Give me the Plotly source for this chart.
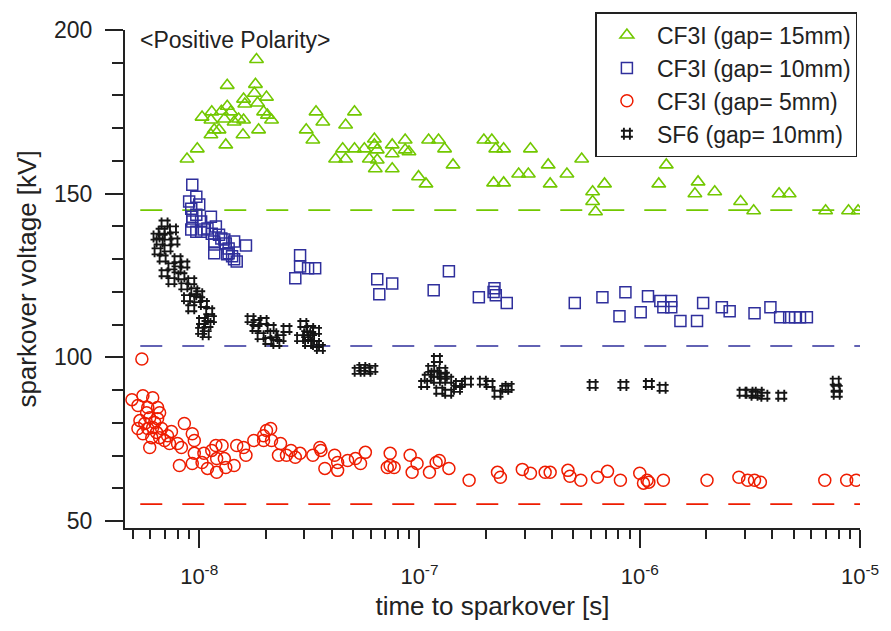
import plotly.graph_objects as go

# ---------------- data ----------------
# CF3I gap = 15 mm (time to sparkover [s], sparkover voltage [kV])
g15_t = [8.8e-9, 9.8e-9, 1.03e-8, 1.13e-8, 1.14e-8, 1.17e-8, 1.13e-8, 1.23e-8, 1.26e-8, 1.30e-8,
         1.32e-8, 1.34e-8, 1.34e-8, 1.39e-8, 1.44e-8, 1.51e-8, 1.58e-8, 1.59e-8, 1.61e-8, 1.59e-8,
         1.80e-8, 1.78e-8, 1.82e-8, 1.84e-8, 1.86e-8, 1.96e-8, 2.02e-8, 2.04e-8, 2.13e-8,
         3.06e-8, 3.28e-8, 3.39e-8, 3.64e-8, 4.16e-8, 4.48e-8, 4.62e-8, 4.62e-8, 5.07e-8, 5.07e-8,
         5.62e-8, 5.92e-8, 6.24e-8, 6.24e-8, 6.30e-8, 6.43e-8, 6.43e-8, 7.52e-8, 7.52e-8, 7.52e-8,
         8.61e-8, 8.61e-8, 8.96e-8, 9.9e-8, 1.07e-7, 1.10e-7, 1.22e-7, 1.30e-7, 1.42e-7,
         1.96e-7, 2.13e-7, 2.17e-7, 2.22e-7, 2.41e-7, 2.41e-7, 2.82e-7, 3.12e-7, 3.19e-7, 3.84e-7,
         3.92e-7, 4.67e-7, 5.45e-7, 6.11e-7, 6.11e-7, 6.30e-7, 6.92e-7, 1.22e-6, 1.32e-6, 1.78e-6,
         1.84e-6, 2.19e-6, 2.87e-6, 3.29e-6, 4.29e-6, 4.77e-6, 6.98e-6, 8.87e-6, 9.8e-6]
g15_v = [160.6, 163.7, 173.4, 172.5, 175.0, 169.5, 168.0, 169.5, 175.2, 172.8,
         164.9, 183.1, 176.7, 175.0, 171.9, 172.8, 168.0, 178.9, 177.4, 172.5,
         183.4, 180.7, 191.0, 177.7, 169.5, 175.0, 179.5, 174.0, 172.5,
         169.5, 166.4, 175.0, 171.9, 160.6, 163.7, 160.6, 171.0, 175.0, 163.7,
         163.7, 160.6, 166.7, 164.9, 157.6, 163.4, 160.3, 164.9, 162.2, 157.6,
         166.4, 163.4, 162.8, 155.2, 153.0, 166.4, 166.4, 163.7, 158.8,
         166.4, 166.4, 153.3, 163.7, 163.7, 153.3, 156.0, 156.0, 163.7, 158.8,
         153.0, 156.0, 160.6, 150.6, 147.6, 144.5, 153.0, 153.0, 158.8, 150.0,
         153.6, 150.6, 147.6, 144.8, 150.0, 150.0, 144.8, 144.8, 144.8]

# CF3I gap = 10 mm
g10_t = [9.3e-9, 9.7e-9, 9.0e-9, 9.2e-9, 1.0e-8, 9.7e-9, 9.3e-9, 9.3e-9, 1.02e-8, 9.2e-9,
         1.02e-8, 9.7e-9, 1.05e-8, 1.13e-8, 1.09e-8, 1.14e-8, 1.19e-8, 1.23e-8, 1.17e-8, 1.17e-8,
         1.26e-8, 1.30e-8, 1.32e-8, 1.36e-8, 1.44e-8, 1.63e-8, 1.17e-8, 1.36e-8, 1.41e-8, 1.44e-8,
         1.48e-8, 1.34e-8,
         2.73e-8, 2.87e-8, 2.87e-8, 3.12e-8, 3.36e-8, 6.43e-8, 7.52e-8, 6.57e-8, 1.36e-7, 1.16e-7,
         1.86e-7, 2.19e-7, 2.22e-7, 2.17e-7, 2.49e-7, 5.07e-7, 6.77e-7, 8.61e-7, 8.09e-7, 1.01e-6,
         1.09e-6, 1.24e-6, 1.28e-6, 1.39e-6, 1.39e-6, 1.53e-6, 1.82e-6, 1.94e-6, 2.36e-6, 2.56e-6,
         3.32e-6, 3.92e-6, 4.34e-6, 4.77e-6, 5.07e-6, 5.34e-6, 5.74e-6]
g10_v = [152.7, 149.1, 147.6, 145.4, 146.7, 143.6, 143.0, 141.5, 141.5, 139.1,
         138.4, 138.4, 139.1, 143.0, 139.4, 137.8, 140.0, 137.5, 135.4, 134.5,
         136.3, 136.0, 134.8, 133.3, 135.4, 134.2, 131.8, 131.8, 130.9, 130.0,
         129.3, 131.5,
         124.2, 131.2, 127.8, 127.2, 127.2, 123.9, 122.6, 119.3, 126.3, 120.5,
         118.4, 121.1, 119.0, 120.0, 116.6, 116.6, 118.4, 119.9, 112.6, 113.8,
         118.7, 117.2, 115.3, 117.2, 115.3, 111.1, 111.1, 116.6, 115.3, 114.1,
         113.5, 115.3, 112.3, 112.3, 112.3, 112.3, 112.3]

# CF3I gap = 5 mm
g5_t = [5.49e-9, 4.95e-9, 5.55e-9, 6.15e-9, 5.27e-9, 5.84e-9, 6.47e-9, 5.38e-9, 5.96e-9, 6.47e-9,
        5.27e-9, 5.66e-9, 6.15e-9, 6.75e-9, 7.48e-9, 5.55e-9, 6.09e-9, 6.96e-9, 5.96e-9, 7.18e-9,
        6.4e-9, 5.77e-9, 6.61e-9, 6.28e-9, 5.84e-9, 6.61e-9, 7.33e-9, 8.56e-9, 9.3e-9, 9.5e-9,
        7.97e-9, 8.3e-9, 8.13e-9, 9.3e-9, 9.5e-9, 1.05e-8, 1.03e-8, 1.09e-8, 1.14e-8, 1.19e-8,
        1.27e-8, 1.20e-8, 1.30e-8, 1.32e-8, 1.20e-8, 1.44e-8, 1.48e-8, 1.59e-8, 1.63e-8, 1.77e-8,
        1.96e-8, 2.02e-8, 2.11e-8, 1.96e-8, 2.13e-8, 2.34e-8, 2.29e-8, 2.49e-8, 2.61e-8, 2.73e-8,
        2.87e-8, 3.28e-8, 3.53e-8, 3.57e-8, 3.72e-8, 4.12e-8, 4.25e-8, 4.25e-8, 4.72e-8, 5.12e-8,
        5.40e-8, 5.68e-8, 7.36e-8, 7.36e-8, 7.67e-8, 7.14e-8, 9.07e-8, 9.26e-8, 9.75e-8, 1.11e-7,
        1.19e-7, 1.23e-7, 1.36e-7, 1.68e-7, 2.26e-7, 2.33e-7, 2.93e-7, 3.19e-7, 3.72e-7, 3.92e-7,
        4.72e-7, 4.82e-7, 5.40e-7, 6.43e-7, 7.14e-7, 8.17e-7, 1.0e-6, 1.04e-6, 1.10e-6, 1.08e-6,
        1.28e-6, 2.02e-6, 2.82e-6, 3.09e-6, 3.32e-6, 3.53e-6, 6.92e-6, 8.7e-6, 9.6e-6]
g5_v = [99.5, 87.1, 88.3, 87.7, 85.3, 84.7, 84.7, 80.7, 81.6, 81.3,
        78.3, 79.8, 78.6, 78.3, 77.4, 76.7, 75.5, 74.6, 72.5, 76.1,
        77.1, 83.1, 83.1, 80.1, 78.3, 75.5, 73.7, 79.8, 76.7, 74.6,
        73.7, 72.5, 67.0, 67.6, 70.7, 70.7, 67.9, 66.1, 71.6, 73.1,
        73.1, 69.1, 69.1, 66.4, 64.9, 67.0, 73.1, 72.5, 70.1, 74.6,
        76.1, 77.7, 78.3, 74.6, 74.6, 73.7, 70.1, 70.1, 71.6, 69.5,
        70.7, 70.1, 72.5, 71.6, 66.1, 70.1, 67.9, 65.5, 68.5, 69.1,
        67.6, 71.0, 70.7, 67.0, 66.4, 66.4, 70.1, 64.9, 67.6, 64.9,
        67.9, 68.5, 66.1, 62.5, 64.9, 63.4, 65.8, 64.6, 64.9, 64.9,
        65.5, 63.7, 62.5, 63.4, 65.2, 62.5, 64.6, 61.6, 61.9, 62.5,
        62.5, 62.5, 63.4, 62.5, 62.5, 61.9, 62.5, 62.5, 62.5]

# SF6 gap = 10 mm
sf6_t = [6.96e-9, 6.75e-9, 7.6e-9, 6.61e-9, 7.72e-9, 6.4e-9, 7.18e-9, 6.82e-9, 7.97e-9, 8.56e-9,
         7.48e-9, 6.96e-9, 8.3e-9, 9.2e-9, 7.48e-9, 9.5e-9, 8.8e-9, 1.0e-8, 1.05e-8, 1.11e-8,
         9.2e-9, 1.03e-8, 1.09e-8, 1.02e-8, 1.07e-8, 7.97e-9, 8.56e-9, 7.18e-9, 9.8e-9, 1.13e-8,
         6.47e-9,
         1.71e-8, 1.82e-8, 1.96e-8, 1.80e-8, 2.11e-8, 1.90e-8, 2.17e-8, 2.34e-8, 2.49e-8, 2.06e-8,
         2.24e-8, 2.97e-8, 3.19e-8, 3.39e-8, 2.87e-8, 3.12e-8, 3.39e-8, 3.22e-8, 3.09e-8, 3.53e-8,
         5.50e-8, 5.80e-8, 6.11e-8, 5.24e-8,
         1.2e-7, 1.13e-7, 1.27e-7, 1.09e-7, 1.2e-7, 1.35e-7, 1.51e-7, 1.66e-7, 1.23e-7, 1.35e-7,
         1.48e-7, 1.17e-7, 1.05e-7, 1.29e-7, 1.94e-7, 2.08e-7, 2.26e-7, 2.54e-7, 2.45e-7,
         6.11e-7, 8.43e-7, 1.10e-6, 1.27e-6, 2.93e-6, 3.15e-6, 3.32e-6, 3.47e-6, 3.68e-6, 4.39e-6,
         7.76e-6, 7.84e-6, 7.84e-6]
sf6_v = [140.9, 138.4, 139.1, 135.4, 135.4, 136.9, 133.3, 130.2, 130.0, 128.4,
         127.8, 125.7, 124.8, 123.3, 123.3, 120.2, 118.1, 119.3, 116.3, 114.1,
         115.0, 111.1, 110.2, 108.1, 107.1, 126.9, 121.7, 136.9, 117.8, 111.7,
         132.4,
         111.7, 110.5, 111.1, 109.0, 109.0, 106.5, 107.1, 105.9, 108.7, 105.0,
         104.4, 110.2, 108.7, 108.1, 105.9, 104.4, 104.1, 105.9, 107.1, 102.9,
         96.8, 95.9, 96.5, 95.9,
         99.5, 96.5, 95.9, 93.8, 93.2, 93.2, 91.9, 92.6, 89.8, 89.2,
         90.4, 95.0, 91.9, 94.4, 92.6, 91.9, 88.9, 91.0, 90.4,
         91.6, 91.6, 91.9, 90.7, 89.2, 89.2, 88.6, 89.2, 88.3, 88.3,
         92.6, 90.4, 88.9]

# reference (dashed) levels [kV] and their time span [s]
ref_levels = {"g15": 145.0, "g10": 103.5, "g5": 55.2}
ref_span = [5.4e-9, 1.0e-5]

x_ticks = [1e-8, 1e-7, 1e-6, 1e-5]
x_ticktext = ["10<sup>-8</sup>", "10<sup>-7</sup>", "10<sup>-6</sup>", "10<sup>-5</sup>"]
x_minor = [m * 10.0 ** e for e in range(-9, -5) for m in range(2, 10) if 4.6e-9 < m * 10.0 ** e < 1e-5]

# ---------------- styles ----------------
C_GREEN = "#72c800"
C_BLUE = "#2f2f9c"
C_RED = "#ee1c00"
C_BLACK = "#151515"
C_AXIS = "#222222"
FONT = "Liberation Sans, Arial, Helvetica, sans-serif"

fig = go.Figure()

for key, col in [("g15", C_GREEN), ("g10", C_BLUE), ("g5", C_RED)]:
    fig.add_trace(go.Scatter(
        x=ref_span, y=[ref_levels[key]] * 2, mode="lines",
        line=dict(color=col, width=1.6, dash="22px,20px"),
        showlegend=False, hoverinfo="skip"))

fig.add_trace(go.Scatter(x=g15_t, y=g15_v, mode="markers", name="CF3I (gap= 15mm)",
                         marker=dict(symbol="triangle-up-open", size=12, color=C_GREEN,
                                     line=dict(width=1.6, color=C_GREEN))))
fig.add_trace(go.Scatter(x=g10_t, y=g10_v, mode="markers", name="CF3I (gap= 10mm)",
                         marker=dict(symbol="square-open", size=11, color=C_BLUE,
                                     line=dict(width=1.5, color=C_BLUE))))
fig.add_trace(go.Scatter(x=g5_t, y=g5_v, mode="markers", name="CF3I (gap= 5mm)",
                         marker=dict(symbol="circle-open", size=12, color=C_RED,
                                     line=dict(width=1.5, color=C_RED))))
fig.add_trace(go.Scatter(x=sf6_t, y=sf6_v, mode="markers", name="SF6 (gap= 10mm)",
                         marker=dict(symbol="hash-open", size=12, color=C_BLACK,
                                     line=dict(width=1.9, color=C_BLACK))))

fig.update_layout(
    width=891, height=631,
    margin=dict(l=125, r=23, t=28, b=103),
    paper_bgcolor="white", plot_bgcolor="white",
    font=dict(family=FONT, size=22, color=C_AXIS),
    showlegend=True,
    legend=dict(x=0.64, y=1.036, xanchor="left", yanchor="top",
                bgcolor="white", bordercolor=C_AXIS, borderwidth=1.5,
                font=dict(size=23, color=C_AXIS), itemwidth=50,
                tracegroupgap=0),
    xaxis=dict(
        type="log", range=[-8.337, -5],
        showline=True, linecolor=C_AXIS, linewidth=2, mirror=False,
        showgrid=False, zeroline=False,
        ticks="outside", ticklen=18, tickwidth=2, tickcolor=C_AXIS,
        tickmode="array", tickvals=x_ticks, ticktext=x_ticktext,
        tickfont=dict(size=22), ticklabelstandoff=10,
        minor=dict(tickmode="array", tickvals=x_minor, ticks="outside",
                   ticklen=9, tickwidth=2, tickcolor=C_AXIS, showgrid=False),
        title=dict(text="time to sparkover [s]", font=dict(size=26), standoff=8),
    ),
    yaxis=dict(
        range=[47.9, 200],
        showline=True, linecolor=C_AXIS, linewidth=2, mirror=False,
        showgrid=False, zeroline=False,
        ticks="outside", ticklen=18, tickwidth=2, tickcolor=C_AXIS,
        tickmode="array", tickvals=[50, 100, 150, 200],
        tickfont=dict(size=23), ticklabelstandoff=8,
        minor=dict(tick0=50, dtick=10, ticks="outside", ticklen=11,
                   tickwidth=2, tickcolor=C_AXIS, showgrid=False),
        title=dict(text="sparkover voltage [kV]", font=dict(size=26), standoff=10),
    ),
    annotations=[dict(text="&lt;Positive Polarity&gt;", xref="paper", yref="paper",
                      x=0.018, y=0.98, xanchor="left", yanchor="middle",
                      showarrow=False, font=dict(size=23, color=C_AXIS))],
)

fig.write_html("out.html")
